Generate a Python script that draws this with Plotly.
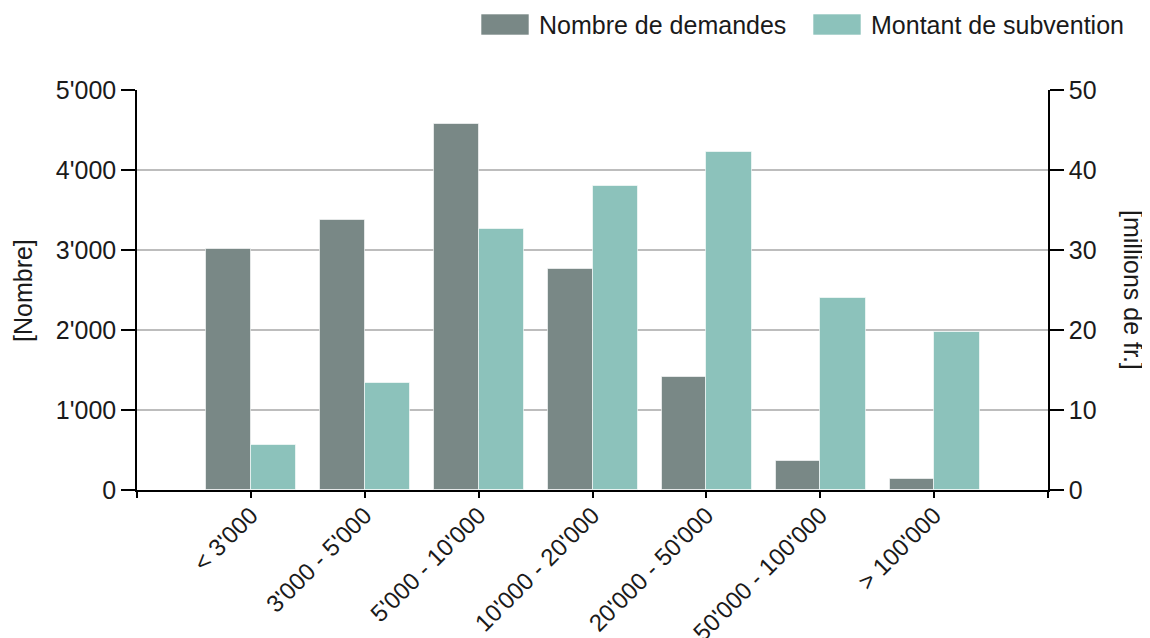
import plotly.graph_objects as go

categories = ["< 3'000", "3'000 - 5'000", "5'000 - 10'000", "10'000 - 20'000",
              "20'000 - 50'000", "50'000 - 100'000", "> 100'000"]
nombre_demandes = [3010, 3370, 4575, 2760, 1410, 360, 135]
montant_subvention = [5.6, 13.4, 32.6, 38.0, 42.2, 24.0, 19.7]
left_ticks = [0, 1000, 2000, 3000, 4000, 5000]
left_ticktext = ["0", "1'000", "2'000", "3'000", "4'000", "5'000"]
right_ticks = [0, 10, 20, 30, 40, 50]

GREY = "#798886"
TEAL = "#8cc2bb"
FONT = "Liberation Sans, Arial, sans-serif"
FS = 25
TXT = "#1a1a1a"

# page body margin offset
OFF = 8

xpos = list(range(1, len(categories) + 1))

fig = go.Figure()
fig.add_trace(go.Bar(
    x=xpos, y=nombre_demandes, name="Nombre de demandes",
    marker=dict(color=GREY, line=dict(color="rgba(255,255,255,0.6)", width=1)),
    width=0.39, offset=-0.39, yaxis="y", showlegend=False,
))
fig.add_trace(go.Bar(
    x=xpos, y=montant_subvention, name="Montant de subvention",
    marker=dict(color=TEAL, line=dict(color="rgba(255,255,255,0.6)", width=1)),
    width=0.40, offset=0.0, yaxis="y2", showlegend=False,
))

W, H = 1150 - OFF, 638 - OFF
L, R, T, B = 137 - OFF, 1048 - OFF, 90 - OFF, 490 - OFF

fig.update_layout(
    template="none",
    width=W, height=H,
    margin=dict(l=L, r=W - R, t=T, b=H - B, autoexpand=False),
    paper_bgcolor="white", plot_bgcolor="white",
    font=dict(family=FONT, size=FS, color=TXT),
    barmode="overlay",
    bargap=0,
    xaxis=dict(
        range=[0, 8], tickmode="array", tickvals=list(range(0, 9)),
        ticktext=[""] + categories + [""], tickangle=-45,
        showline=True, linecolor="black", linewidth=1.5,
        ticks="outside", ticklen=6, tickcolor="black", tickwidth=1.5,
        ticklabelstandoff=-6,
        showgrid=False, zeroline=False, automargin=False,
        tickfont=dict(family=FONT, size=24, color=TXT),
        fixedrange=True,
    ),
    yaxis=dict(
        range=[0, 5000], tickmode="array", tickvals=left_ticks, ticktext=left_ticktext,
        showline=True, linecolor="black", linewidth=1.5,
        ticks="outside", ticklen=14, tickcolor="black", tickwidth=1.5,
        showgrid=True, gridcolor="#bdbdbd", gridwidth=1.5,
        zeroline=False, automargin=False,
        tickfont=dict(family=FONT, size=FS, color=TXT),
    ),
    yaxis2=dict(
        range=[0, 50], tickmode="array", tickvals=right_ticks,
        overlaying="y", side="right",
        showline=True, linecolor="black", linewidth=1.5,
        ticks="outside", ticklen=14, tickcolor="black", tickwidth=1.5,
        showgrid=False, zeroline=False, automargin=False,
        tickfont=dict(family=FONT, size=FS, color=TXT),
    ),
    showlegend=False,
)

def px(xp):
    return (xp - OFF - L) / (R - L)

def py(yp):
    return (B - (yp - OFF)) / (B - T)

# axis titles
fig.add_annotation(text="[Nombre]", x=px(23), y=py(290), xref="paper", yref="paper",
                   textangle=-90, showarrow=False, font=dict(size=FS, family=FONT, color=TXT),
                   xanchor="center", yanchor="middle")
fig.add_annotation(text="[millions de fr.]", x=px(1133), y=py(290), xref="paper", yref="paper",
                   textangle=90, showarrow=False, font=dict(size=FS, family=FONT, color=TXT),
                   xanchor="center", yanchor="middle")

# legend
legend_items = [("Nombre de demandes", GREY, 481), ("Montant de subvention", TEAL, 813)]
for label, color, x0 in legend_items:
    fig.add_shape(type="rect", xref="paper", yref="paper",
                  x0=px(x0), x1=px(x0 + 48), y0=py(35), y1=py(14),
                  fillcolor=color, line=dict(color="rgba(255,255,255,0.6)", width=1))
    fig.add_annotation(text=label, x=px(x0 + 56), y=py(25), xref="paper", yref="paper",
                       showarrow=False, xanchor="left", yanchor="middle",
                       font=dict(size=FS, family=FONT, color=TXT))

fig.write_html("out.html")
